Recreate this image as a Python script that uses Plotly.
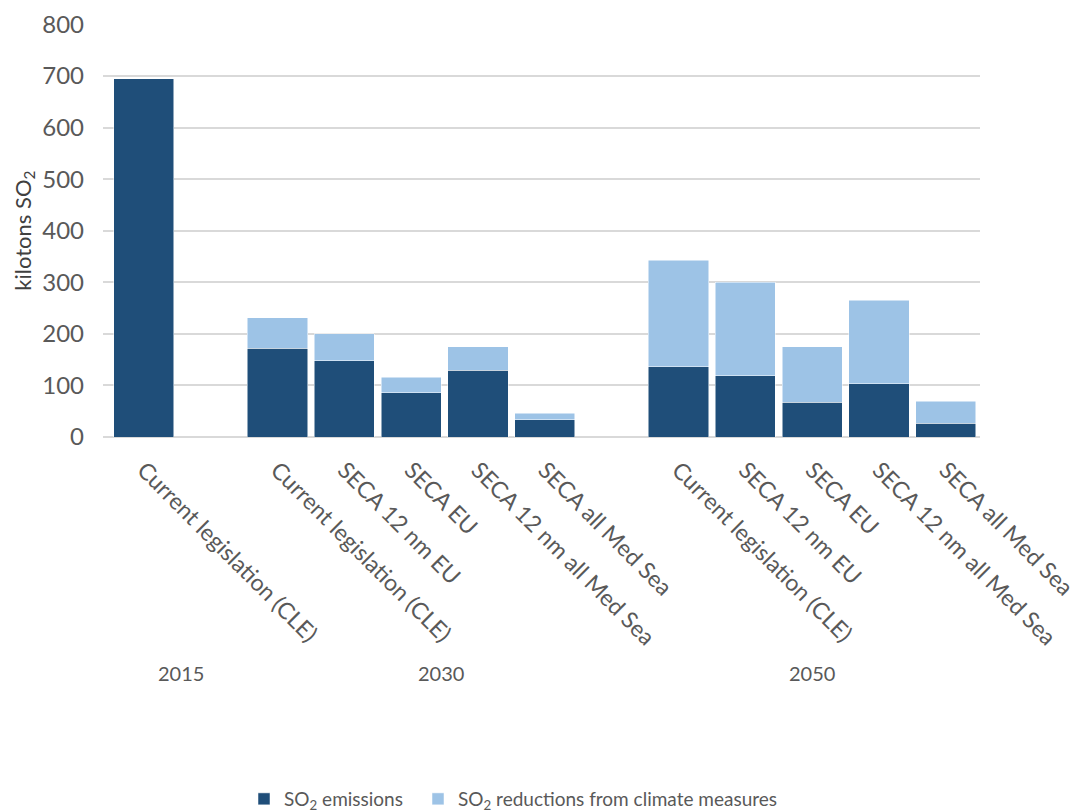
"""
SO2 emissions from shipping in the Mediterranean, by scenario
"""

import plotly.graph_objects as go

# scenario groups (year -> scenarios)
years = ["2015", "2030", "2050"]
scenarios_2015 = ["Current legislation (CLE)"]
scenarios_2030 = [
    "Current legislation (CLE)",
    "SECA 12 nm EU",
    "SECA EU",
    "SECA 12 nm all Med Sea",
    "SECA all Med Sea",
]
scenarios_2050 = list(scenarios_2030)

# kilotons SO2
emissions_2015 = [695]
emissions_2030 = [172, 148, 86, 129, 33]
emissions_2050 = [136, 119, 67, 103, 27]

reductions_2015 = [0]
reductions_2030 = [59, 52, 30, 46, 13]
reductions_2050 = [207, 181, 108, 162, 42]

DARK = "#1f4e79"
LIGHT = "#9dc3e6"
GREY = "#595959"
FONT = "Lato"
W, H = 1083, 812

groups = [
    (scenarios_2015, emissions_2015, reductions_2015),
    (scenarios_2030, emissions_2030, reductions_2030),
    (scenarios_2050, emissions_2050, reductions_2050),
]

# lay the groups out along the axis, leaving one empty slot between groups
xpos, labels, emis, red, centers = [], [], [], [], []
slot = 0
for names, e, r in groups:
    start = slot
    for name, ev, rv in zip(names, e, r):
        xpos.append(slot)
        labels.append(name)
        emis.append(ev)
        red.append(rv)
        slot += 1
    centers.append((start + slot - 1) / 2)
    slot += 1

fig = go.Figure()
fig.add_trace(go.Bar(x=xpos, y=emis, name="SO<sub>2</sub> emissions",
                     marker_color=DARK, legend="legend"))
fig.add_trace(go.Bar(x=xpos, y=red,
                     name="SO<sub>2</sub> reductions from climate measures",
                     marker_color=LIGHT, legend="legend2"))

shifts = [37, 30, 0]
for yr, cx, sh in zip(years, centers, shifts):
    fig.add_annotation(x=cx, y=0, xref="x", yref="paper", yanchor="middle",
                       yshift=-236, xshift=sh, text=yr, showarrow=False,
                       font=dict(family=FONT, size=20, color=GREY))

# y axis title
fig.add_annotation(x=-0.091, y=0.5, xref="paper", yref="paper",
                   xanchor="center", yanchor="middle", textangle=-90,
                   text="kilotons SO<sub>2</sub>", showarrow=False,
                   font=dict(family=FONT, size=22, color="#404040"))

legend_style = dict(xref="container", yref="container", xanchor="left",
                    yanchor="middle", y=(H - 799) / H,
                    font=dict(family=FONT, size=19, color=GREY))

fig.update_layout(
    barmode="stack",
    bargap=0.1,
    width=W,
    height=H,
    template="plotly_white",
    paper_bgcolor="white",
    plot_bgcolor="white",
    font=dict(family=FONT, size=22, color=GREY),
    margin=dict(l=103, r=103, t=24, b=375, autoexpand=False),
    showlegend=True,
    legend=dict(x=244 / W, **legend_style),
    legend2=dict(x=418 / W, **legend_style),
)

fig.update_xaxes(
    tickmode="array",
    tickvals=xpos,
    ticktext=labels,
    tickangle=45,
    range=[-0.61, 12.51],
    showgrid=False,
    zeroline=False,
    showline=False,
    ticks="",
    ticklabelstandoff=14,
    ticklabeloverflow="allow",
    automargin=False,
    tickfont=dict(family=FONT, size=23, color=GREY),
)
fig.update_yaxes(
    range=[0, 801],
    tickvals=list(range(0, 801, 100)),
    gridcolor="#d9d9d9",
    gridwidth=1.5,
    zeroline=True,
    zerolinecolor="#d9d9d9",
    zerolinewidth=1.5,
    showline=False,
    ticklabelstandoff=18,
    automargin=False,
    tickfont=dict(family=FONT, size=24, color=GREY),
)

# the page body has a default 8px margin; drop it so the figure fills the window
fig.write_html("out.html", config={"displayModeBar": False},
               post_script="document.body.style.margin='0';")
